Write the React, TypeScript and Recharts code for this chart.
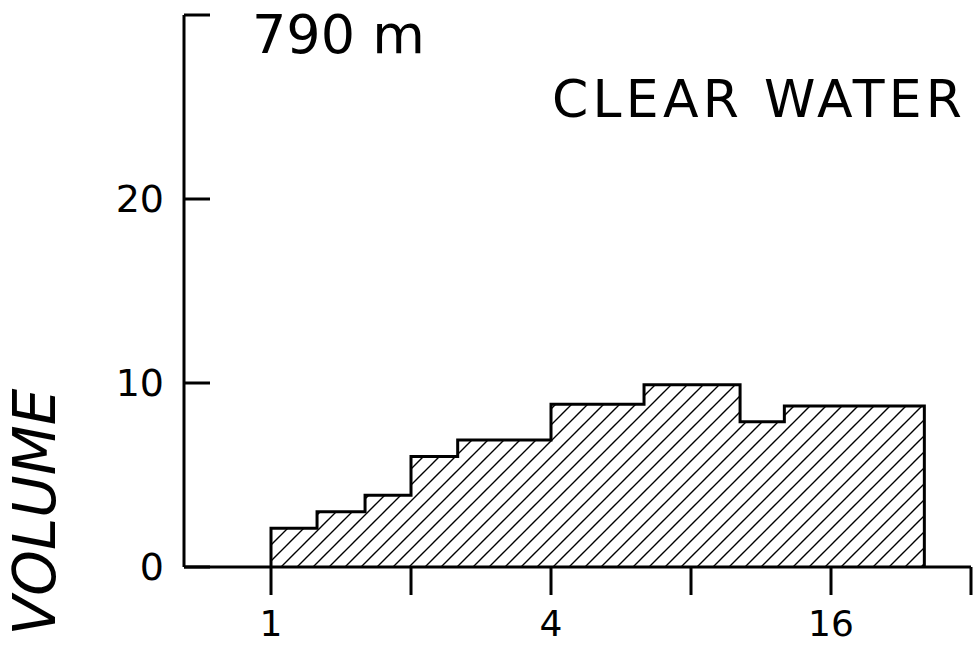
import React from 'react';
import { ComposedChart, Area, XAxis, YAxis, Customized } from 'recharts';

// Bin edges (particle size, log2 axis) and volume per bin
const binEdges = [1, 1.256, 1.593, 2.0, 2.52, 4.0, 6.34, 10.2, 12.7, 25.4];
const binVolumes = [2.1, 3.0, 3.9, 6.0, 6.9, 8.85, 9.9, 7.9, 8.75];
const xTicks = [1, 2, 4, 8, 16, 32];
const xTickLabels = ['1', '', '4', '', '16', ''];
const yTicks = [0, 10, 20, 30];
const yTickLabels = ['0', '10', '20', ''];
const depthLabel = '790 m';
const panelTitle = 'CLEAR WATER';
const yTitle = 'VOLUME';

const data = [
  { size: binEdges[0], vol: 0 },
  ...binEdges.slice(0, -1).map((e, i) => ({ size: e, vol: binVolumes[i] })),
  { size: binEdges[binEdges.length - 1], vol: 0 },
];

const FONT = "'DejaVu Sans', sans-serif";

const Texts = () => (
  <g fontFamily={FONT} fill="#000">
    <text x={252} y={53} fontSize={54}>{depthLabel}</text>
    <text x={552} y={117} fontSize={52} textLength={410} lengthAdjust="spacing">{panelTitle}</text>
    <text
      x={0}
      y={0}
      transform="translate(55,512) rotate(-90)"
      textAnchor="middle"
      fontSize={58}
      fontStyle="italic"
    >
      {yTitle}
    </text>
  </g>
);

export default function App() {
  return (
    <div style={{ position: 'absolute', left: 0, top: 0, background: '#fff' }}>
      <ComposedChart
        width={975}
        height={646}
        data={data}
        margin={{ top: 15, right: 4, bottom: 49, left: 124 }}
      >
        <defs>
          <pattern id="hatch" patternUnits="userSpaceOnUse" width="16" height="16">
            <path d="M-4,4 L4,-4 M0,16 L16,0 M12,20 L20,12" stroke="#000" strokeWidth={1.4} />
          </pattern>
        </defs>
        <XAxis
          dataKey="size"
          type="number"
          scale="log"
          domain={[0.65, 32]}
          allowDataOverflow
          ticks={xTicks}
          tickFormatter={(v: number) => xTickLabels[xTicks.indexOf(v)] ?? ''}
          tickSize={28}
          tickMargin={15}
          height={30}
          axisLine={{ stroke: '#000', strokeWidth: 3 }}
          tickLine={{ stroke: '#000', strokeWidth: 3 }}
          tick={{ fill: '#000', fontSize: 36, fontFamily: FONT }}
          interval={0}
        />
        <YAxis
          type="number"
          domain={[0, 30]}
          ticks={yTicks}
          tickFormatter={(v: number) => yTickLabels[yTicks.indexOf(v)] ?? ''}
          width={60}
          tickSize={-26}
          tickMargin={46}
          axisLine={{ stroke: '#000', strokeWidth: 3 }}
          tickLine={{ stroke: '#000', strokeWidth: 3 }}
          tick={{ fill: '#000', fontSize: 38, fontFamily: FONT }}
          interval={0}
        />
        <Area
          type="stepAfter"
          dataKey="vol"
          stroke="#000"
          strokeWidth={3}
          fill="url(#hatch)"
          fillOpacity={1}
          dot={false}
          activeDot={false}
          isAnimationActive={false}
        />
        <Customized component={Texts} />
      </ComposedChart>
    </div>
  );
}
